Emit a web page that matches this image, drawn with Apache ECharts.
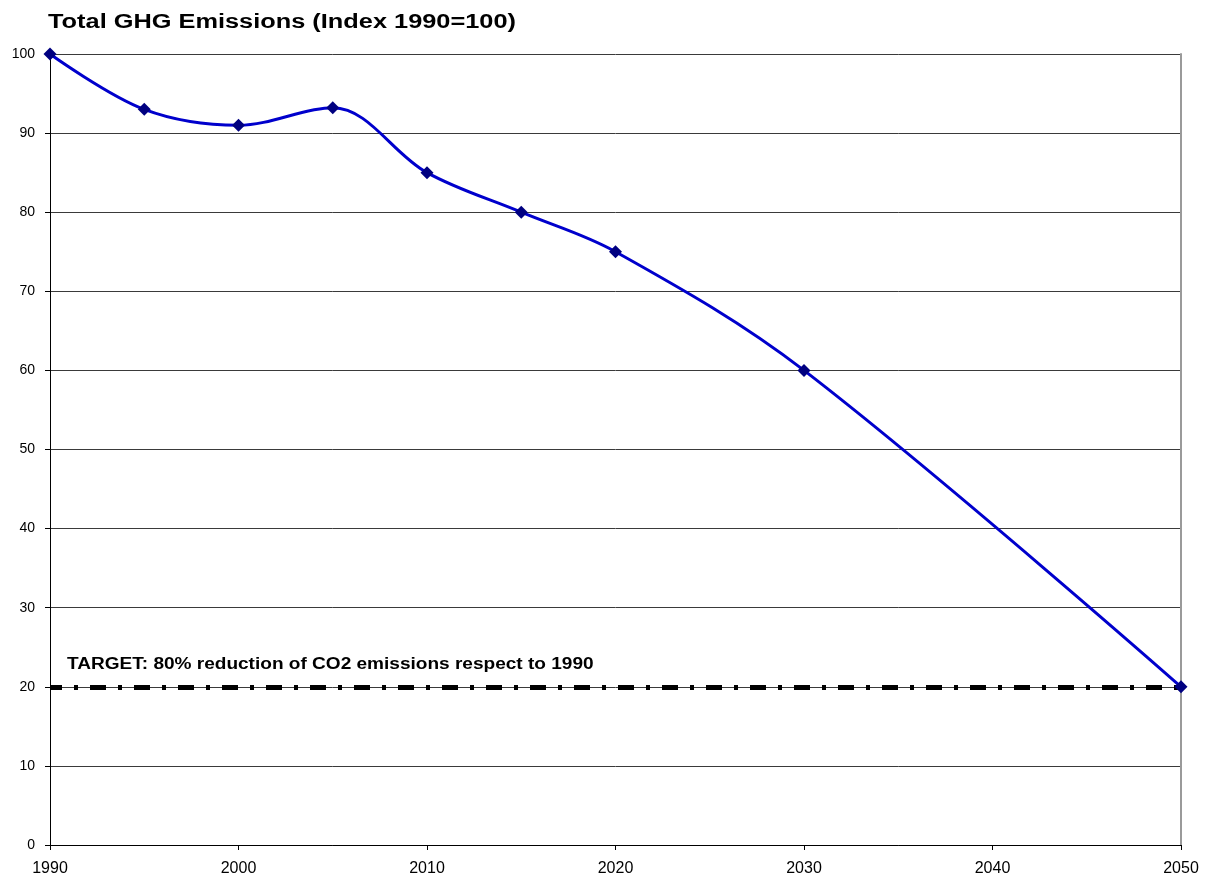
<!DOCTYPE html>
<html>
<head>
<meta charset="utf-8">
<script src="https://cdn.jsdelivr.net/npm/echarts@6/dist/echarts.min.js"></script>
<style>
  html, body { margin: 0; padding: 0; background: #fff; }
  #chart { width: 1206px; height: 877px; }
</style>
</head>
<body>
<div id="chart"></div>
<script>
// Emission index by year (1990 = 100)
const years = [1990, 1995, 2000, 2005, 2010, 2015, 2020, 2030, 2050];
const emissionIndex = [100, 93, 91, 93.2, 85, 80, 75, 60, 20];
const xTicks = [1990, 2000, 2010, 2020, 2030, 2040, 2050];
const targetValue = 20;
const targetText = 'TARGET: 80% reduction of CO2 emissions respect to 1990';
const titleText = 'Total GHG Emissions (Index 1990=100)';

const FONT = '"Liberation Sans", Arial, sans-serif';
const chart = echarts.init(document.getElementById('chart'), null, { renderer: 'canvas' });

chart.setOption({
  animation: false,
  backgroundColor: '#ffffff',
  grid: { left: 50, right: 25, top: 54, bottom: 32, containLabel: false },
  xAxis: {
    type: 'value',
    min: xTicks[0], max: xTicks[xTicks.length - 1], interval: 10,
    axisLine: { show: true, lineStyle: { color: '#000', width: 1 } },
    axisTick: { show: true, inside: false, length: 5, lineStyle: { color: '#000' } },
    axisLabel: { fontFamily: FONT, fontSize: 16, color: '#000', margin: 16,
      formatter: v => String(v) },
    splitLine: { show: false }
  },
  yAxis: [{
    type: 'value', min: 0, max: 100, interval: 10,
    axisLine: { show: true, lineStyle: { color: '#000', width: 1 } },
    axisTick: { show: true, inside: false, length: 5, lineStyle: { color: '#000' } },
    axisLabel: { fontFamily: FONT, fontSize: 14, color: '#000', margin: 15 },
    splitLine: { show: true, lineStyle: { color: '#3a3a3a', width: 1 } }
  }, {
    type: 'value', min: 0, max: 100, position: 'right',
    axisLine: { show: true, lineStyle: { color: '#9a9a9a', width: 2 } },
    axisTick: { show: false }, axisLabel: { show: false }, splitLine: { show: false }
  }],
  series: [{
    name: 'Target',
    type: 'line',
    data: [],
    markLine: {
      silent: true,
      symbol: 'none',
      lineStyle: { color: '#000', width: 5, type: [16, 12, 4, 12], dashOffset: 4 },
      label: { show: false },
      data: [{ yAxis: targetValue }]
    }
  }, {
    name: 'Total GHG Emissions',
    type: 'line',
    data: years.map((y, i) => [y, emissionIndex[i]]),
    smooth: 0.35,
    symbol: 'diamond',
    symbolSize: 13,
    itemStyle: { color: '#000080' },
    lineStyle: { color: '#0000cc', width: 3 },
    z: 5
  }]
});

// Title and target caption, set in a slightly widened bold face
const targetY = chart.convertToPixel({ yAxisIndex: 0 }, targetValue);
const leftX = chart.convertToPixel({ xAxisIndex: 0 }, xTicks[0]);
chart.setOption({
  graphic: [{
    type: 'text',
    x: 48, y: 23,
    scaleX: 1.3,
    style: {
      text: titleText,
      font: 'bold 19.5px ' + FONT,
      fill: '#000',
      textAlign: 'left',
      textVerticalAlign: 'middle'
    }
  }, {
    type: 'text',
    x: leftX + 17, y: targetY - 22,
    scaleX: 1.19,
    style: {
      text: targetText,
      font: 'bold 16px ' + FONT,
      fill: '#000',
      textAlign: 'left',
      textVerticalAlign: 'middle'
    }
  }]
});
</script>
</body>
</html>
